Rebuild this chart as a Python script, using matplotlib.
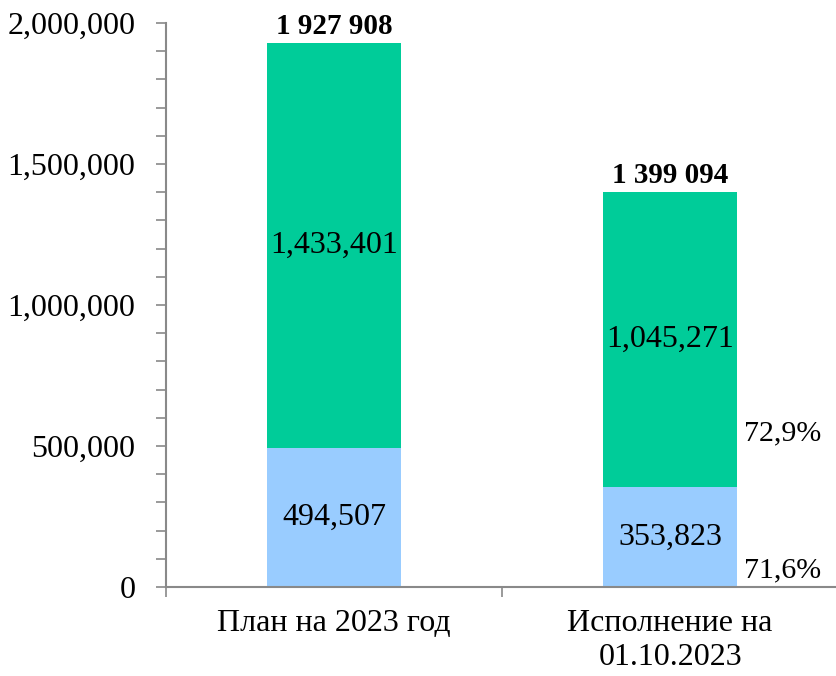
import matplotlib.pyplot as plt
from matplotlib.ticker import FuncFormatter, MultipleLocator

plt.rcParams["font.family"] = ["Liberation Serif", "DejaVu Serif"]

# данные
categories = ["План на 2023 год", "Исполнение на\n01.10.2023"]
bottom_vals = [494507, 353823]
top_vals = [1433401, 1045271]
totals = ["1 927 908", "1 399 094"]
percents_bottom = ["", "71,6%"]
percents_top = ["", "72,9%"]

fig = plt.figure(figsize=(8.36, 6.76), dpi=100)
ax = fig.add_axes([0.1986, 0.1317, 0.804, 0.8343])

x = range(len(categories))
ax.bar(x, bottom_vals, width=0.4, color="#99CCFF")
ax.bar(x, top_vals, width=0.4, bottom=bottom_vals, color="#00CC99")

for i in x:
    b = bottom_vals[i]
    t = top_vals[i]
    ax.text(i, b / 2, f"{b:,}", ha="center", va="center", fontsize=23)
    ax.text(i, b + t / 2, f"{t:,}", ha="center", va="center", fontsize=23)
    ax.text(i, b + t + 12000, totals[i], ha="center", va="bottom",
            fontsize=21, fontweight="bold")
    if percents_bottom[i]:
        ax.text(i + 0.335, 60000, percents_bottom[i], ha="center",
                va="center", fontsize=21.5)
    if percents_top[i]:
        ax.text(i + 0.335, 545000, percents_top[i], ha="center",
                va="center", fontsize=21.5)

# оси
ax.set_xlim(-0.5, 1.5)
ax.set_ylim(0, 2000000)
ax.yaxis.set_major_locator(MultipleLocator(500000))
ax.yaxis.set_minor_locator(MultipleLocator(100000))
ax.yaxis.set_major_formatter(FuncFormatter(lambda v, p: f"{int(v):,}"))
ax.tick_params(axis="y", which="both", direction="out", length=7,
               color="#898989", width=1.2, labelsize=23, pad=15)
ax.set_xticks([0, 1])
ax.set_xticklabels(categories, fontsize=23, linespacing=1.2)
ax.set_xticks([-0.5, 0.5, 1.5], minor=True)
ax.tick_params(axis="x", which="major", length=0, pad=16)
ax.tick_params(axis="x", which="minor", length=7, color="#898989", width=1.2)

for side in ["top", "right"]:
    ax.spines[side].set_visible(False)
for side in ["left", "bottom"]:
    ax.spines[side].set_color("#898989")
    ax.spines[side].set_linewidth(1.5)

fig.savefig("out.png", dpi=100)
